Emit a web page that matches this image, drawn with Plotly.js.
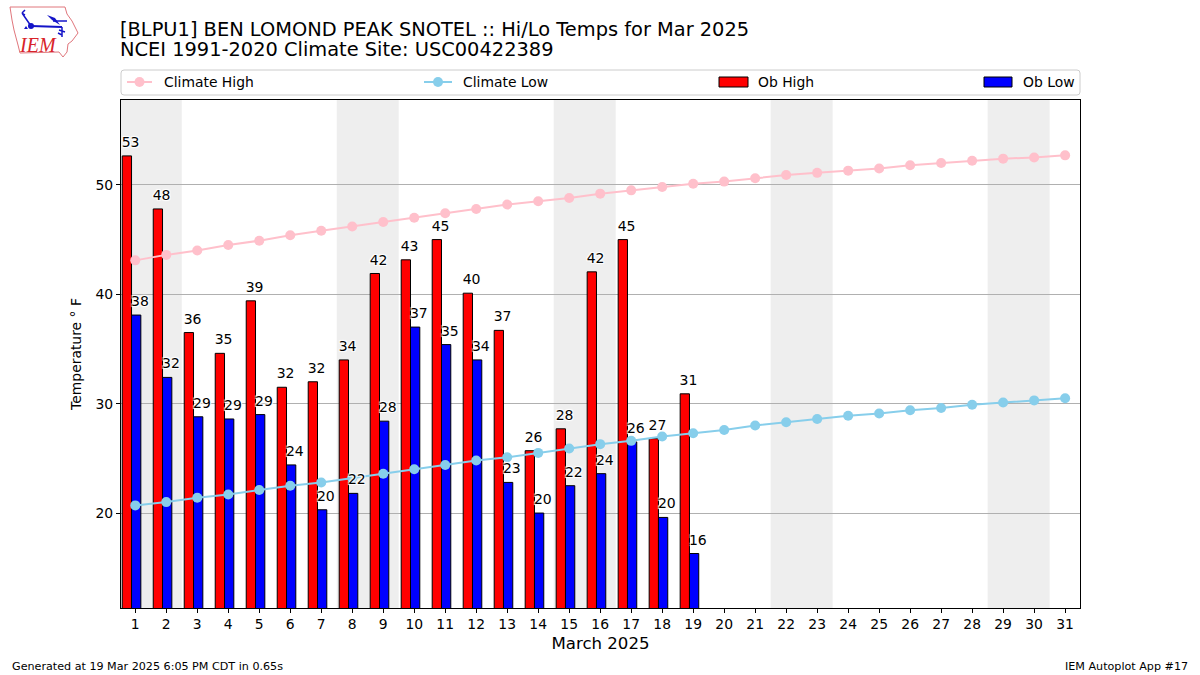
<!DOCTYPE html>
<html>
<head>
<meta charset="utf-8">
<script src="https://cdn.plot.ly/plotly-3.0.1.min.js"></script>
<style>html,body{margin:0;padding:0;background:#fff}#c{width:1200px;height:675px}</style>
</head>
<body>
<div id="c"></div>
<script>
const days = [1,2,3,4,5,6,7,8,9,10,11,12,13,14,15,16,17,18,19,20,21,22,23,24,25,26,27,28,29,30,31];
const obDays = [1,2,3,4,5,6,7,8,9,10,11,12,13,14,15,16,17,18,19];
const climateHigh = [43.1,43.6,44,44.5,44.9,45.4,45.8,46.2,46.6,47,47.4,47.8,48.2,48.5,48.8,49.2,49.5,49.8,50.1,50.3,50.6,50.9,51.1,51.3,51.5,51.8,52,52.2,52.4,52.5,52.7];
const climateLow = [20.7,21,21.4,21.7,22.1,22.5,22.8,23.2,23.6,24,24.4,24.8,25.1,25.5,25.9,26.3,26.6,27,27.3,27.6,28,28.3,28.6,28.9,29.1,29.4,29.6,29.9,30.1,30.3,30.5];
const obHigh = [52.65,47.8,36.5,34.6,39.4,31.5,32,34,41.9,43.15,45,40.1,36.7,25.7,27.7,42.05,45,26.8,30.9];
const obLow = [38.1,32.4,28.8,28.6,29,24.4,20.3,21.8,28.4,37,35.4,34,22.8,20,22.5,23.6,26.5,19.6,16.3];
const highLabels = ["53","48","36","35","39","32","32","34","42","43","45","40","37","26","28","42","45","27","31"];
const lowLabels = ["38","32","29","29","29","24","20","22","28","37","35","34","23","20","22","24","26","20","16"];
const weekendBands = [[0.5,2.5],[7.5,9.5],[14.5,16.5],[21.5,23.5],[28.5,30.5]];
const seriesNames = ["Climate High","Climate Low","Ob High","Ob Low"];
const seriesColors = ["pink","skyblue","red","blue"];
const titleLine1 = "[BLPU1] BEN LOMOND PEAK SNOTEL :: Hi/Lo Temps for Mar 2025";
const titleLine2 = "NCEI 1991-2020 Climate Site: USC00422389";

const W = 1200, H = 675, FONT = "DejaVu Sans";
const ML = 121, MR = 120, MT = 100, MB = 67;
const px = x => (x - ML) / (W - ML - MR), py = y => 1 - (y - MT) / (H - MT - MB);
const halo = "-1px -1px 1px #fff,1px -1px 1px #fff,-1px 1px 1px #fff,1px 1px 1px #fff";

const logoSvg = `<svg xmlns="http://www.w3.org/2000/svg" width="72" height="54" viewBox="8 5 72 54">
<path d="M10 7 L65 7 L67 14 L72 21 L78 33 L72 41 L68 44 L67 52 L63 57 L59 52 L20 53 L18 45 L14 30 L12 20 Z" fill="#fff" stroke="#e0767c" stroke-width="1"/>
<g stroke="#1414c8" fill="none" stroke-width="1.5">
<path d="M31 26 L62 27" stroke-width="2"/>
<path d="M31 26 L22 13 M22 13 L25 10 M22 13 L25 15"/>
<path d="M62 27 L62 37 M59 30 L65 32 M58 33 L62 35"/>
<path d="M53 21 L67 21"/>
</g>
<path d="M47 15 L55 18 L60 25 L52 20 Z" fill="#1414c8"/>
<circle cx="31" cy="26" r="3" fill="#1414c8"/>
<path d="M24 29 L26 26 L28 29 Z" fill="#1414c8"/>
</svg>`;

const traces = [
  {type:"bar", name:seriesNames[2], x:obDays, y:obHigh, width:0.3, offset:-0.42,
   marker:{color:seriesColors[2], line:{color:"#000", width:1}}, hoverinfo:"x+y"},
  {type:"bar", name:seriesNames[3], x:obDays, y:obLow, width:0.3, offset:-0.12,
   marker:{color:seriesColors[3], line:{color:"#000", width:1}}, hoverinfo:"x+y"},
  {type:"scatter", mode:"lines+markers", name:seriesNames[0], x:days, y:climateHigh,
   line:{color:seriesColors[0], width:2}, marker:{color:seriesColors[0], size:10}},
  {type:"scatter", mode:"lines+markers", name:seriesNames[1], x:days, y:climateLow,
   line:{color:seriesColors[1], width:2}, marker:{color:seriesColors[1], size:10}},
  {type:"scatter", mode:"text", x:obDays.map(d=>d-0.15), y:obHigh.map(v=>v+0.5), text:highLabels,
   textposition:"top center", textfont:{family:FONT,size:14,color:"#000",shadow:halo}, hoverinfo:"skip", cliponaxis:false},
  {type:"scatter", mode:"text", x:obDays.map(d=>d+0.15), y:obLow.map(v=>v+0.5), text:lowLabels,
   textposition:"top center", textfont:{family:FONT,size:14,color:"#000",shadow:halo}, hoverinfo:"skip", cliponaxis:false}
];

const L=121,R=1080,T=70,B=95,r=3;
const framePath = `M${px(L+r)} ${py(T)} L${px(R-r)} ${py(T)} Q${px(R)} ${py(T)} ${px(R)} ${py(T+r)} L${px(R)} ${py(B-r)} Q${px(R)} ${py(B)} ${px(R-r)} ${py(B)} L${px(L+r)} ${py(B)} Q${px(L)} ${py(B)} ${px(L)} ${py(B-r)} L${px(L)} ${py(T+r)} Q${px(L)} ${py(T)} ${px(L+r)} ${py(T)} Z`;
const paper = {xref:"paper", yref:"paper"};
const legendShapes = [
  {type:"path", path:framePath, line:{color:"#cccccc",width:1}, fillcolor:"#fff", layer:"above", ...paper},
  {type:"line", x0:px(127),x1:px(152),y0:py(82),y1:py(82), line:{color:seriesColors[0],width:2}, layer:"above", ...paper},
  {type:"circle", x0:px(134.5),x1:px(144.5),y0:py(77),y1:py(87), fillcolor:seriesColors[0], line:{width:0}, layer:"above", ...paper},
  {type:"line", x0:px(424),x1:px(452),y0:py(82),y1:py(82), line:{color:seriesColors[1],width:2}, layer:"above", ...paper},
  {type:"circle", x0:px(433),x1:px(443),y0:py(77),y1:py(87), fillcolor:seriesColors[1], line:{width:0}, layer:"above", ...paper},
  {type:"rect", x0:px(719),x1:px(748),y0:py(77),y1:py(87), fillcolor:seriesColors[2], line:{color:"#000",width:1}, layer:"above", ...paper},
  {type:"rect", x0:px(984),x1:px(1012),y0:py(77),y1:py(87), fillcolor:seriesColors[3], line:{color:"#000",width:1}, layer:"above", ...paper}
];
const bandShapes = weekendBands.map(b=>({type:"rect", xref:"x", yref:"paper", x0:b[0], x1:b[1], y0:0, y1:1, fillcolor:"#eeeeee", line:{width:0}, layer:"below"}));

const note = (text,xp,yp,size,anchor,extra={}) => Object.assign({text, xref:"paper", yref:"paper", x:px(xp), y:py(yp), xanchor:anchor, yanchor:"middle", showarrow:false, font:{family:FONT,size,color:"#000"}}, extra);

const layout = {
  width:W, height:H, paper_bgcolor:"#fff", plot_bgcolor:"#fff", showlegend:false, bargap:0,
  margin:{l:ML,r:MR,t:MT,b:MB,pad:0},
  font:{family:FONT,size:14,color:"#000"},
  title:{text:titleLine1, x:120/W, xanchor:"left", xref:"container", y:1-29/H, yanchor:"middle", font:{family:FONT,size:19.4,color:"#000"}},
  xaxis:{range:[0.54,31.48], tickmode:"array", tickvals:days, ticktext:days.map(String), ticks:"outside", ticklen:3.5, tickcolor:"#000", showgrid:false, zeroline:false,
    showline:true, mirror:true, linecolor:"#000", linewidth:1, tickfont:{family:FONT,size:13.9},
    title:{text:"March 2025", font:{family:FONT,size:16.6}, standoff:6}},
  yaxis:{range:[11.32,57.76], tickmode:"array", tickvals:[20,30,40,50], ticks:"outside", ticklen:4, tickcolor:"#000", showgrid:true, gridcolor:"#b0b0b0", gridwidth:1, zeroline:false,
    showline:true, mirror:true, linecolor:"#000", linewidth:1, tickfont:{family:FONT,size:13.9},
    title:{text:"Temperature \u00B0 F", font:{family:FONT,size:13.9}, standoff:10}},
  shapes:[...bandShapes, ...legendShapes],
  images:[{source:"data:image/svg+xml;base64,"+btoa(logoSvg), xref:"paper", yref:"paper", x:px(8), y:py(5), sizex:72/(W-ML-MR), sizey:54/(H-MT-MB), xanchor:"left", yanchor:"top", sizing:"stretch", layer:"above"}],
  annotations:[
    note(titleLine2,118,50,19.4,"left"),
    note(seriesNames[0],162,82,13.9,"left"),
    note(seriesNames[1],461,82,13.9,"left"),
    note(seriesNames[2],756,82,13.9,"left"),
    note(seriesNames[3],1021,82,13.9,"left"),
    note("Generated at 19 Mar 2025 6:05 PM CDT in 0.65s",10,666,11.15,"left"),
    note("IEM Autoplot App #17",1190,666,11.15,"right"),
    note("<i>IEM</i>",37.5,45,20,"center",{font:{family:"Liberation Serif",size:20,color:"#d8232a"}})
  ]
};
Plotly.newPlot("c", traces, layout, {displayModeBar:false, staticPlot:true});
</script>
</body>
</html>
